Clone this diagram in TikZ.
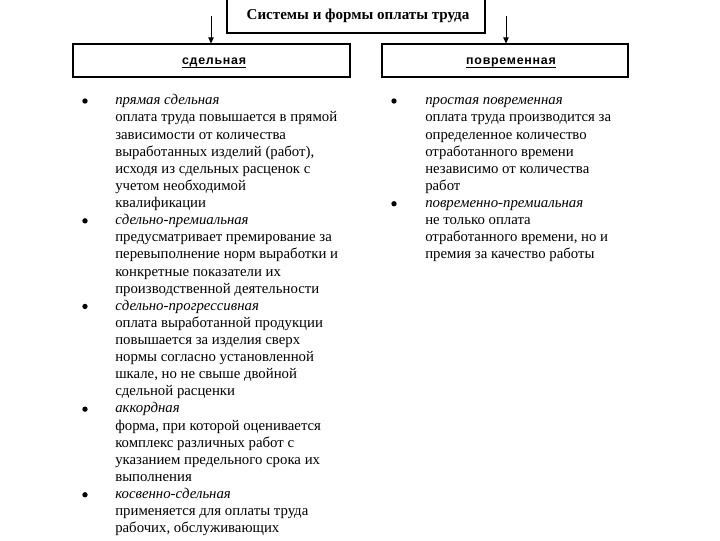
\documentclass[tikz,border=0pt]{standalone}
\usepackage{fontspec}
\setmainfont{Liberation Serif}
\setsansfont{Liberation Sans}
\usetikzlibrary{arrows.meta,calc}
\begin{document}
\begin{tikzpicture}[x=0.75pt,y=-0.75pt,
  frame/.style={draw, line width=0.8pt, inner sep=0pt},
  titletext/.style={font=\fontsize{11.3}{13}\selectfont\bfseries},
  headtext/.style={font=\fontsize{9.3}{11}\selectfont\sffamily\bfseries\addfontfeature{LetterSpace=6}, inner sep=0pt, anchor=base},
  txtline/.style={font=\fontsize{11.1}{13}\selectfont, inner sep=0pt, anchor=base west},
  bulletdot/.style={circle, fill=black, inner sep=0pt, minimum size=4pt},
  arr/.style={-{Triangle[length=4.5pt,width=4pt]}, line width=0.6pt}]
\useasboundingbox (0,0) rectangle (720,540);

% title box
\node[frame, minimum width=258*0.75pt, minimum height=40*0.75pt] (title) at (356,13) {};
\node[titletext] (tt) at (358,16) {Системы и формы оплаты труда};

% category boxes
\node[frame, minimum width=277*0.75pt, minimum height=33*0.75pt] (sd) at (211.5,60.5) {};
\node[frame, minimum width=246*0.75pt, minimum height=33*0.75pt] (pv) at (505,60.5) {};

\node[headtext] (sdl) at (214,64) {сдельная};
\node[headtext] (pvl) at (511,64) {повременная};
\draw[line width=1.4pt] ($(sdl.base west)+(0,3.5)$) -- ($(sdl.base east)+(0,3.5)$);
\draw[line width=1.4pt] ($(pvl.base west)+(0,3.5)$) -- ($(pvl.base east)+(0,3.5)$);

% arrows
\coordinate (s1) at (211,16);
\coordinate (s2) at (506,16);
\draw[arr] (s1) -- (s1 |- sd.north);
\draw[arr] (s2) -- (s2 |- pv.north);

% left column
\foreach \t [count=\i from 0] in {
  {\textit{прямая сдельная}},
  {оплата труда повышается в прямой},
  {зависимости от количества},
  {выработанных изделий (работ),},
  {исходя из сдельных расценок с},
  {учетом необходимой},
  {квалификации},
  {\textit{сдельно-премиальная}},
  {предусматривает премирование за},
  {перевыполнение норм выработки и},
  {конкретные показатели их},
  {производственной деятельности},
  {\textit{сдельно-прогрессивная}},
  {оплата выработанной продукции},
  {повышается за изделия сверх},
  {нормы согласно установленной},
  {шкале, но не свыше двойной},
  {сдельной расценки},
  {\textit{аккордная}},
  {форма, при которой оценивается},
  {комплекс различных работ с},
  {указанием предельного срока их},
  {выполнения},
  {\textit{косвенно-сдельная}},
  {применяется для оплаты труда},
  {рабочих, обслуживающих}}
  \node[txtline] (L\i) at (115,{104.8+17.12*\i}) {\t};

\foreach \i in {0,7,12,18,23}
  \node[bulletdot] (LB\i) at (85,{101+17.12*\i}) {};

% right column
\foreach \t [count=\i from 0] in {
  {\textit{простая повременная}},
  {оплата труда производится за},
  {определенное количество},
  {отработанного времени},
  {независимо от количества},
  {работ},
  {\textit{повременно-премиальная}},
  {не только оплата},
  {отработанного времени, но и},
  {премия за качество работы}}
  \node[txtline] (R\i) at (425,{104.8+17.12*\i}) {\t};

\foreach \i in {0,6}
  \node[bulletdot] (RB\i) at (394,{101+17.12*\i}) {};
\end{tikzpicture}
\end{document}
